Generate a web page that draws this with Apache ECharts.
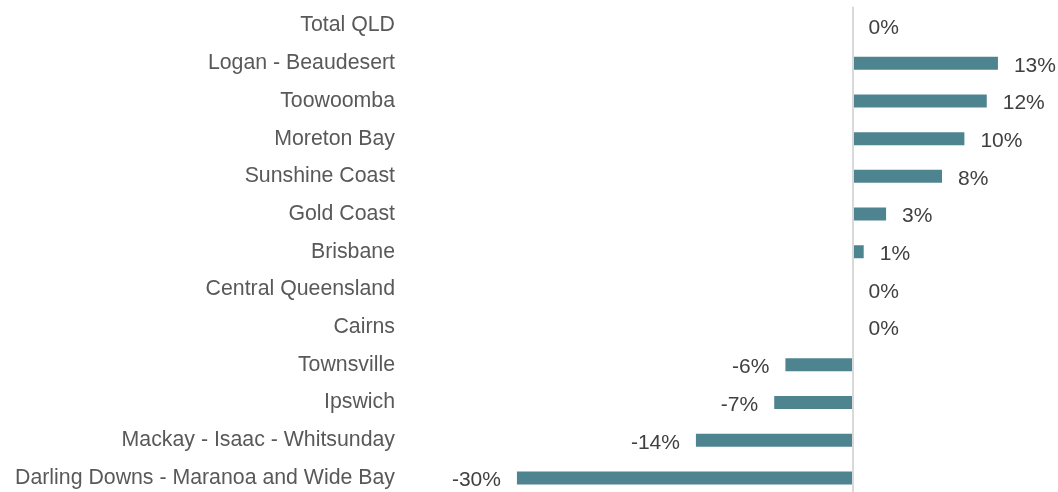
<!DOCTYPE html>
<html>
<head>
<meta charset="utf-8">
<script src="https://cdn.jsdelivr.net/npm/echarts@6/dist/echarts.min.js"></script>
<style>
    html, body { margin: 0; padding: 0; background: #fff; }
    #chart { width: 1058px; height: 492px; }
</style>
</head>
<body>
<div id="chart"></div>
<script>
// 区域名称 (top to bottom)
var regions = ['Total QLD', 'Logan - Beaudesert', 'Toowoomba', 'Moreton Bay', 'Sunshine Coast',
    'Gold Coast', 'Brisbane', 'Central Queensland', 'Cairns', 'Townsville', 'Ipswich',
    'Mackay - Isaac - Whitsunday', 'Darling Downs - Maranoa and Wide Bay'];
// 变化百分比
var changes = [0, 13, 12, 10, 8, 3, 1, 0, 0, -6, -7, -14, -30];

(function () {
    var myChart = echarts.init(document.getElementById('chart'))

    // 负数标签放在左边
    var barData = changes.map(function (v) {
        return {
            value: v,
            label: { position: v < 0 ? 'left' : 'right' }
        }
    })

    var option = {
        animation: false,
        grid: {
            left: 461,
            right: 26.5,
            top: 6.75,
            height: 490,
            outerBoundsMode: 'none',
            containLabel: false
        },
        xAxis: {
            type: 'value',
            min: -35,
            max: 16,
            show: false
        },
        yAxis: {
            type: 'category',
            inverse: true,
            data: regions,
            axisLine: { show: false },
            axisTick: { show: false },
            axisLabel: {
                margin: 66,
                padding: [3, 0, 0, 0],
                color: '#595959',
                fontSize: 21.3,
                fontFamily: 'Liberation Sans, Arial, sans-serif'
            }
        },
        series: [
            {
                type: 'bar',
                data: barData,
                barWidth: 13,
                itemStyle: { color: '#4e8490' },
                label: {
                    show: true,
                    distance: 16,
                    offset: [0, 2.5],
                    color: '#404040',
                    fontSize: 21,
                    fontFamily: 'Liberation Sans, Arial, sans-serif',
                    formatter: function (p) {
                        return p.value + '%'
                    }
                },
                markLine: {
                    silent: true,
                    symbol: 'none',
                    label: { show: false },
                    lineStyle: { color: '#d9d9d9', width: 2, type: 'solid' },
                    data: [{ xAxis: 0 }]
                }
            }
        ]
    }

    myChart.setOption(option)
}());
</script>
</body>
</html>
